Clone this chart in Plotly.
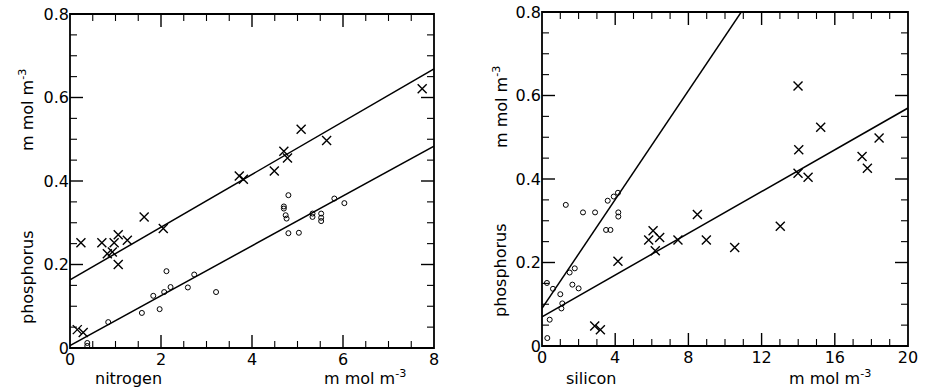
import numpy as np
import plotly.graph_objects as go

# ---- nitrogen panel -------------------------------------------------------
n_cross_x = [0.16, 0.29, 0.24, 0.70, 0.82, 0.93, 0.97, 1.06, 1.06, 1.26, 1.63,
             2.05, 3.72, 3.81, 4.49, 4.70, 4.78, 5.08, 5.64, 7.74]
n_cross_y = [0.044, 0.037, 0.252, 0.252, 0.226, 0.230, 0.252, 0.271, 0.200, 0.258,
             0.314, 0.286, 0.412, 0.404, 0.424, 0.471, 0.455, 0.524, 0.497, 0.621]

n_circ_x = [0.38, 0.38, 0.84, 1.58, 1.83, 1.97, 2.07, 2.12, 2.21, 2.59, 2.73, 3.21,
            4.80, 4.70, 4.70, 4.74, 4.76, 4.80, 5.03, 5.33, 5.33, 5.52, 5.52, 5.52,
            5.81, 6.03]
n_circ_y = [0.005, 0.012, 0.062, 0.084, 0.125, 0.093, 0.134, 0.184, 0.146, 0.145,
            0.176, 0.134, 0.366, 0.339, 0.334, 0.318, 0.310, 0.275, 0.276, 0.322,
            0.314, 0.322, 0.312, 0.304, 0.358, 0.347]

# fitted lines: (intercept, slope)
n_fit_cross = (0.163, 0.0632)
n_fit_circ = (0.006, 0.0597)

# ---- silicon panel --------------------------------------------------------
s_cross_x = [13.99, 15.23, 14.03, 18.42, 17.49, 17.78, 13.99, 14.54, 13.02, 8.49,
             8.98, 10.53, 7.43, 6.07, 5.83, 6.43, 6.19, 4.15, 2.88, 3.19]
s_cross_y = [0.623, 0.524, 0.470, 0.498, 0.454, 0.426, 0.414, 0.404, 0.287, 0.315,
             0.254, 0.236, 0.254, 0.276, 0.254, 0.260, 0.228, 0.203, 0.048, 0.039]

s_circ_x = [0.27, 0.60, 1.00, 1.11, 1.06, 0.42, 0.29, 1.30, 1.51, 1.79, 1.66, 2.00,
            2.24, 2.90, 3.59, 3.92, 4.15, 4.17, 4.17, 3.50, 3.74]
s_circ_y = [0.151, 0.137, 0.124, 0.102, 0.090, 0.063, 0.019, 0.338, 0.176, 0.186,
            0.147, 0.138, 0.320, 0.320, 0.348, 0.358, 0.367, 0.320, 0.310, 0.278,
            0.278]

s_fit_circ = (0.090, 0.0652)
s_fit_cross = (0.070, 0.0250)

# axis ranges and tick steps: (range, major step, minor step)
n_x_axis = ((0, 8), 2, 0.5)
s_x_axis = ((0, 20), 4, 1)
p_y_axis = ((0, 0.8), 0.2, 0.05)

W, H = 930, 390
FONT = "DejaVu Sans"
MAJOR_LEN, MINOR_LEN = 13, 7


def line_pts(fit, xmax):
    a, b = fit
    xs = [0, xmax]
    return xs, [a + b * v for v in xs]


fig = go.Figure()

cross_style = dict(symbol="x-thin-open", size=9, color="black",
                   line=dict(width=1.4, color="black"))
circ_style = dict(symbol="circle-open", size=5, color="black",
                  line=dict(width=1, color="black"))

for xa, ya, cx, cy, ox, oy, fits, xmax in [
    ("x", "y", n_cross_x, n_cross_y, n_circ_x, n_circ_y, (n_fit_cross, n_fit_circ),
     n_x_axis[0][1]),
    ("x2", "y2", s_cross_x, s_cross_y, s_circ_x, s_circ_y, (s_fit_circ, s_fit_cross),
     s_x_axis[0][1]),
]:
    for fit in fits:
        lx, ly = line_pts(fit, xmax)
        fig.add_trace(go.Scatter(x=lx, y=ly, mode="lines", xaxis=xa, yaxis=ya,
                                 line=dict(color="black", width=1.5),
                                 showlegend=False, hoverinfo="skip"))
    fig.add_trace(go.Scatter(x=cx, y=cy, mode="markers", xaxis=xa, yaxis=ya,
                             marker=cross_style, showlegend=False))
    fig.add_trace(go.Scatter(x=ox, y=oy, mode="markers", xaxis=xa, yaxis=ya,
                             marker=circ_style, showlegend=False))


def px_x(p):
    return p / W


def px_y(p):
    return 1 - p / H


def axis(domain, spec, anchor):
    rng, major, _ = spec
    return dict(
        domain=domain, range=list(rng), dtick=major, tick0=0, anchor=anchor,
        showline=False, ticks="", showgrid=False, zeroline=False,
        tickfont=dict(family=FONT, size=16, color="black"),
    )


fig.update_layout(
    template="none",
    width=W, height=H,
    margin=dict(l=0, r=0, t=0, b=0, pad=0),
    paper_bgcolor="white", plot_bgcolor="white",
    xaxis=axis([px_x(70), px_x(434)], n_x_axis, "y"),
    yaxis=axis([px_y(348), px_y(14)], p_y_axis, "x"),
    xaxis2=axis([px_x(542), px_x(908)], s_x_axis, "y2"),
    yaxis2=axis([px_y(346), px_y(12)], p_y_axis, "x2"),
)


def tick_values(spec):
    rng, major, minor = spec
    vals = np.arange(rng[0], rng[1] + minor / 2, minor)
    out = []
    for v in vals:
        ratio = v / major
        is_major = abs(ratio - round(ratio)) < 1e-6
        out.append((float(v), MAJOR_LEN if is_major else MINOR_LEN,
                    1.4 if is_major else 1.1))
    return out


# inward tick marks on all four sides of each panel
for xa, ya, xspec, yspec in [("x", "y", n_x_axis, p_y_axis),
                             ("x2", "y2", s_x_axis, p_y_axis)]:
    for v, ln, w in tick_values(xspec):
        if v in (xspec[0]):
            continue
        for anchor_pos, sign in [(0, 1), (1, -1)]:
            fig.add_shape(type="line", xref=xa, yref=ya + " domain",
                          x0=v, x1=v, ysizemode="pixel", yanchor=anchor_pos,
                          y0=0, y1=sign * ln,
                          line=dict(color="black", width=w), layer="above")
    for v, ln, w in tick_values(yspec):
        if v in (yspec[0]):
            continue
        for anchor_pos, sign in [(0, 1), (1, -1)]:
            fig.add_shape(type="line", xref=xa + " domain", yref=ya,
                          y0=v, y1=v, xsizemode="pixel", xanchor=anchor_pos,
                          x0=0, x1=sign * ln,
                          line=dict(color="black", width=w), layer="above")
    # frame round the panel
    fig.add_shape(type="rect", xref=xa + " domain", yref=ya + " domain",
                  x0=0, x1=1, y0=0, y1=1,
                  line=dict(color="black", width=1.8), layer="above")

unit = "m mol m<sup>-3</sup>"
ann_font = dict(family=FONT, size=16, color="black")
labels = [
    ("phosphorus", 27, 277, -90),
    (unit, 26, 110, -90),
    ("nitrogen", 128, 378, 0),
    (unit, 365, 377, 0),
    ("phosphorus", 500, 270, -90),
    (unit, 500, 107, -90),
    ("silicon", 591, 378, 0),
    (unit, 830, 377, 0),
]
for text, x, y, ang in labels:
    fig.add_annotation(text=text, x=px_x(x), y=px_y(y), xref="paper", yref="paper",
                       showarrow=False, textangle=ang, font=ann_font,
                       xanchor="center", yanchor="middle")

fig.write_html("out.html")
